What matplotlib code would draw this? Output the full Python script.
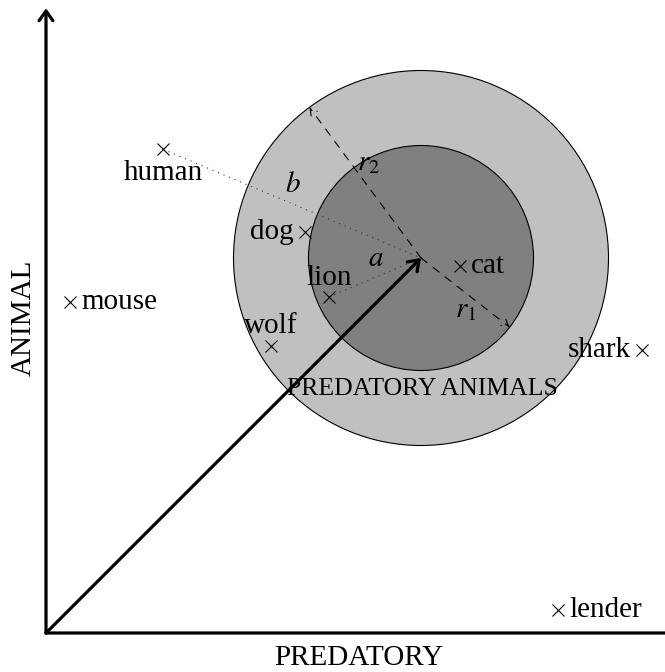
import numpy as np
import matplotlib.pyplot as plt
from matplotlib.patches import Circle, FancyArrowPatch

plt.rcParams['font.family'] = ['Liberation Serif', 'DejaVu Serif']
plt.rcParams['mathtext.fontset'] = 'stix'
plt.rcParams['lines.scale_dashes'] = False

# points in the PREDATORY / ANIMAL plane
animals = ['human', 'dog', 'lion', 'wolf', 'mouse', 'cat', 'shark', 'lender']
animal_x = [1.56, 3.45, 3.77, 3.00, 0.32, 5.52, 7.95, 6.83]
animal_y = [6.45, 5.35, 4.48, 3.83, 4.41, 4.89, 3.77, 0.31]
label_side = ['below', 'left', 'above', 'above', 'right', 'right', 'left', 'right']

center = (5.0, 5.0)
r_inner = 1.5
r_outer = 2.5
r1_angle = -38.0
r2_angle = 126.5

fig = plt.figure(figsize=(6.65, 6.72), dpi=100)
ax = fig.add_axes([0, 0, 1, 1])
ax.set_xlim(-46 / 75, 619 / 75)
ax.set_ylim(-39 / 75, 633 / 75)
ax.set_aspect('equal')
ax.axis('off')

# circles
ax.add_patch(Circle(center, r_outer, facecolor='#c0c0c0', edgecolor='black', lw=0.8, zorder=1))
ax.add_patch(Circle(center, r_inner, facecolor='#808080', edgecolor='black', lw=0.8, zorder=2))

# radii (dashed, small heads)
for r, ang in [(r_inner, r1_angle), (r_outer, r2_angle)]:
    t = np.deg2rad(ang)
    end = (center[0] + r * np.cos(t), center[1] + r * np.sin(t))
    ax.add_patch(FancyArrowPatch(center, end, arrowstyle='->,head_length=0.35,head_width=0.2',
                                 mutation_scale=14, lw=0.8, linestyle=(0, (5.5, 5.5)),
                                 color='black', shrinkA=0, shrinkB=0, zorder=3))

# dotted distances
for name in ['human', 'lion']:
    i = animals.index(name)
    ax.plot([animal_x[i], center[0]], [animal_y[i], center[1]], color='#333333',
            lw=0.8, linestyle=(0, (0.8, 3.5)), zorder=3)

ax.text(4.30, 6.27, '$r_2$', fontsize=21, ha='center', va='center', zorder=5)
ax.text(5.59, 4.31, '$r_1$', fontsize=21, ha='center', va='center', zorder=5)
ax.text(3.29, 5.97, '$b$', fontsize=21, ha='center', va='center', zorder=5)
ax.text(4.40, 4.99, '$a$', fontsize=21, ha='center', va='center', zorder=5)

ax.text(5.02, 3.25, 'PREDATORY ANIMALS', fontsize=18.5, ha='center', va='center', zorder=4)

# axes arrows
head = '->,head_length=0.35,head_width=0.25'
ax.add_patch(FancyArrowPatch((0, 0), (0, 8.33), arrowstyle=head,
                             mutation_scale=20, lw=2.3, color='black', shrinkA=0, shrinkB=0, zorder=6))
ax.add_patch(FancyArrowPatch((0, 0), (8.45, 0), arrowstyle=head,
                             mutation_scale=20, lw=2.3, color='black', shrinkA=0, shrinkB=0, zorder=6))
ax.add_patch(FancyArrowPatch((0, 0), center, arrowstyle=head,
                             mutation_scale=20, lw=2.3, color='black', shrinkA=0, shrinkB=0, zorder=6))

ax.text(4.17, -0.16, 'PREDATORY', fontsize=21, ha='center', va='top')
ax.text(-0.13, 4.2, 'ANIMAL', fontsize=21, ha='right', va='center', rotation=90)

# animals
ax.plot(animal_x, animal_y, linestyle='none', marker='x', markersize=9,
        markeredgewidth=0.8, color='black', zorder=7)

offsets = {'below': (0, -22, 'center'), 'above': (0, 9, 'center'),
           'left': (-8, -5, 'right'), 'right': (8, -5, 'left')}
for name, x, y, side in zip(animals, animal_x, animal_y, label_side):
    dx, dy, ha = offsets[side]
    ax.annotate(name, (x, y), xytext=(dx, dy), textcoords='offset points',
                fontsize=21, ha=ha, va='baseline', zorder=8)

plt.savefig('out.png', dpi=100)
